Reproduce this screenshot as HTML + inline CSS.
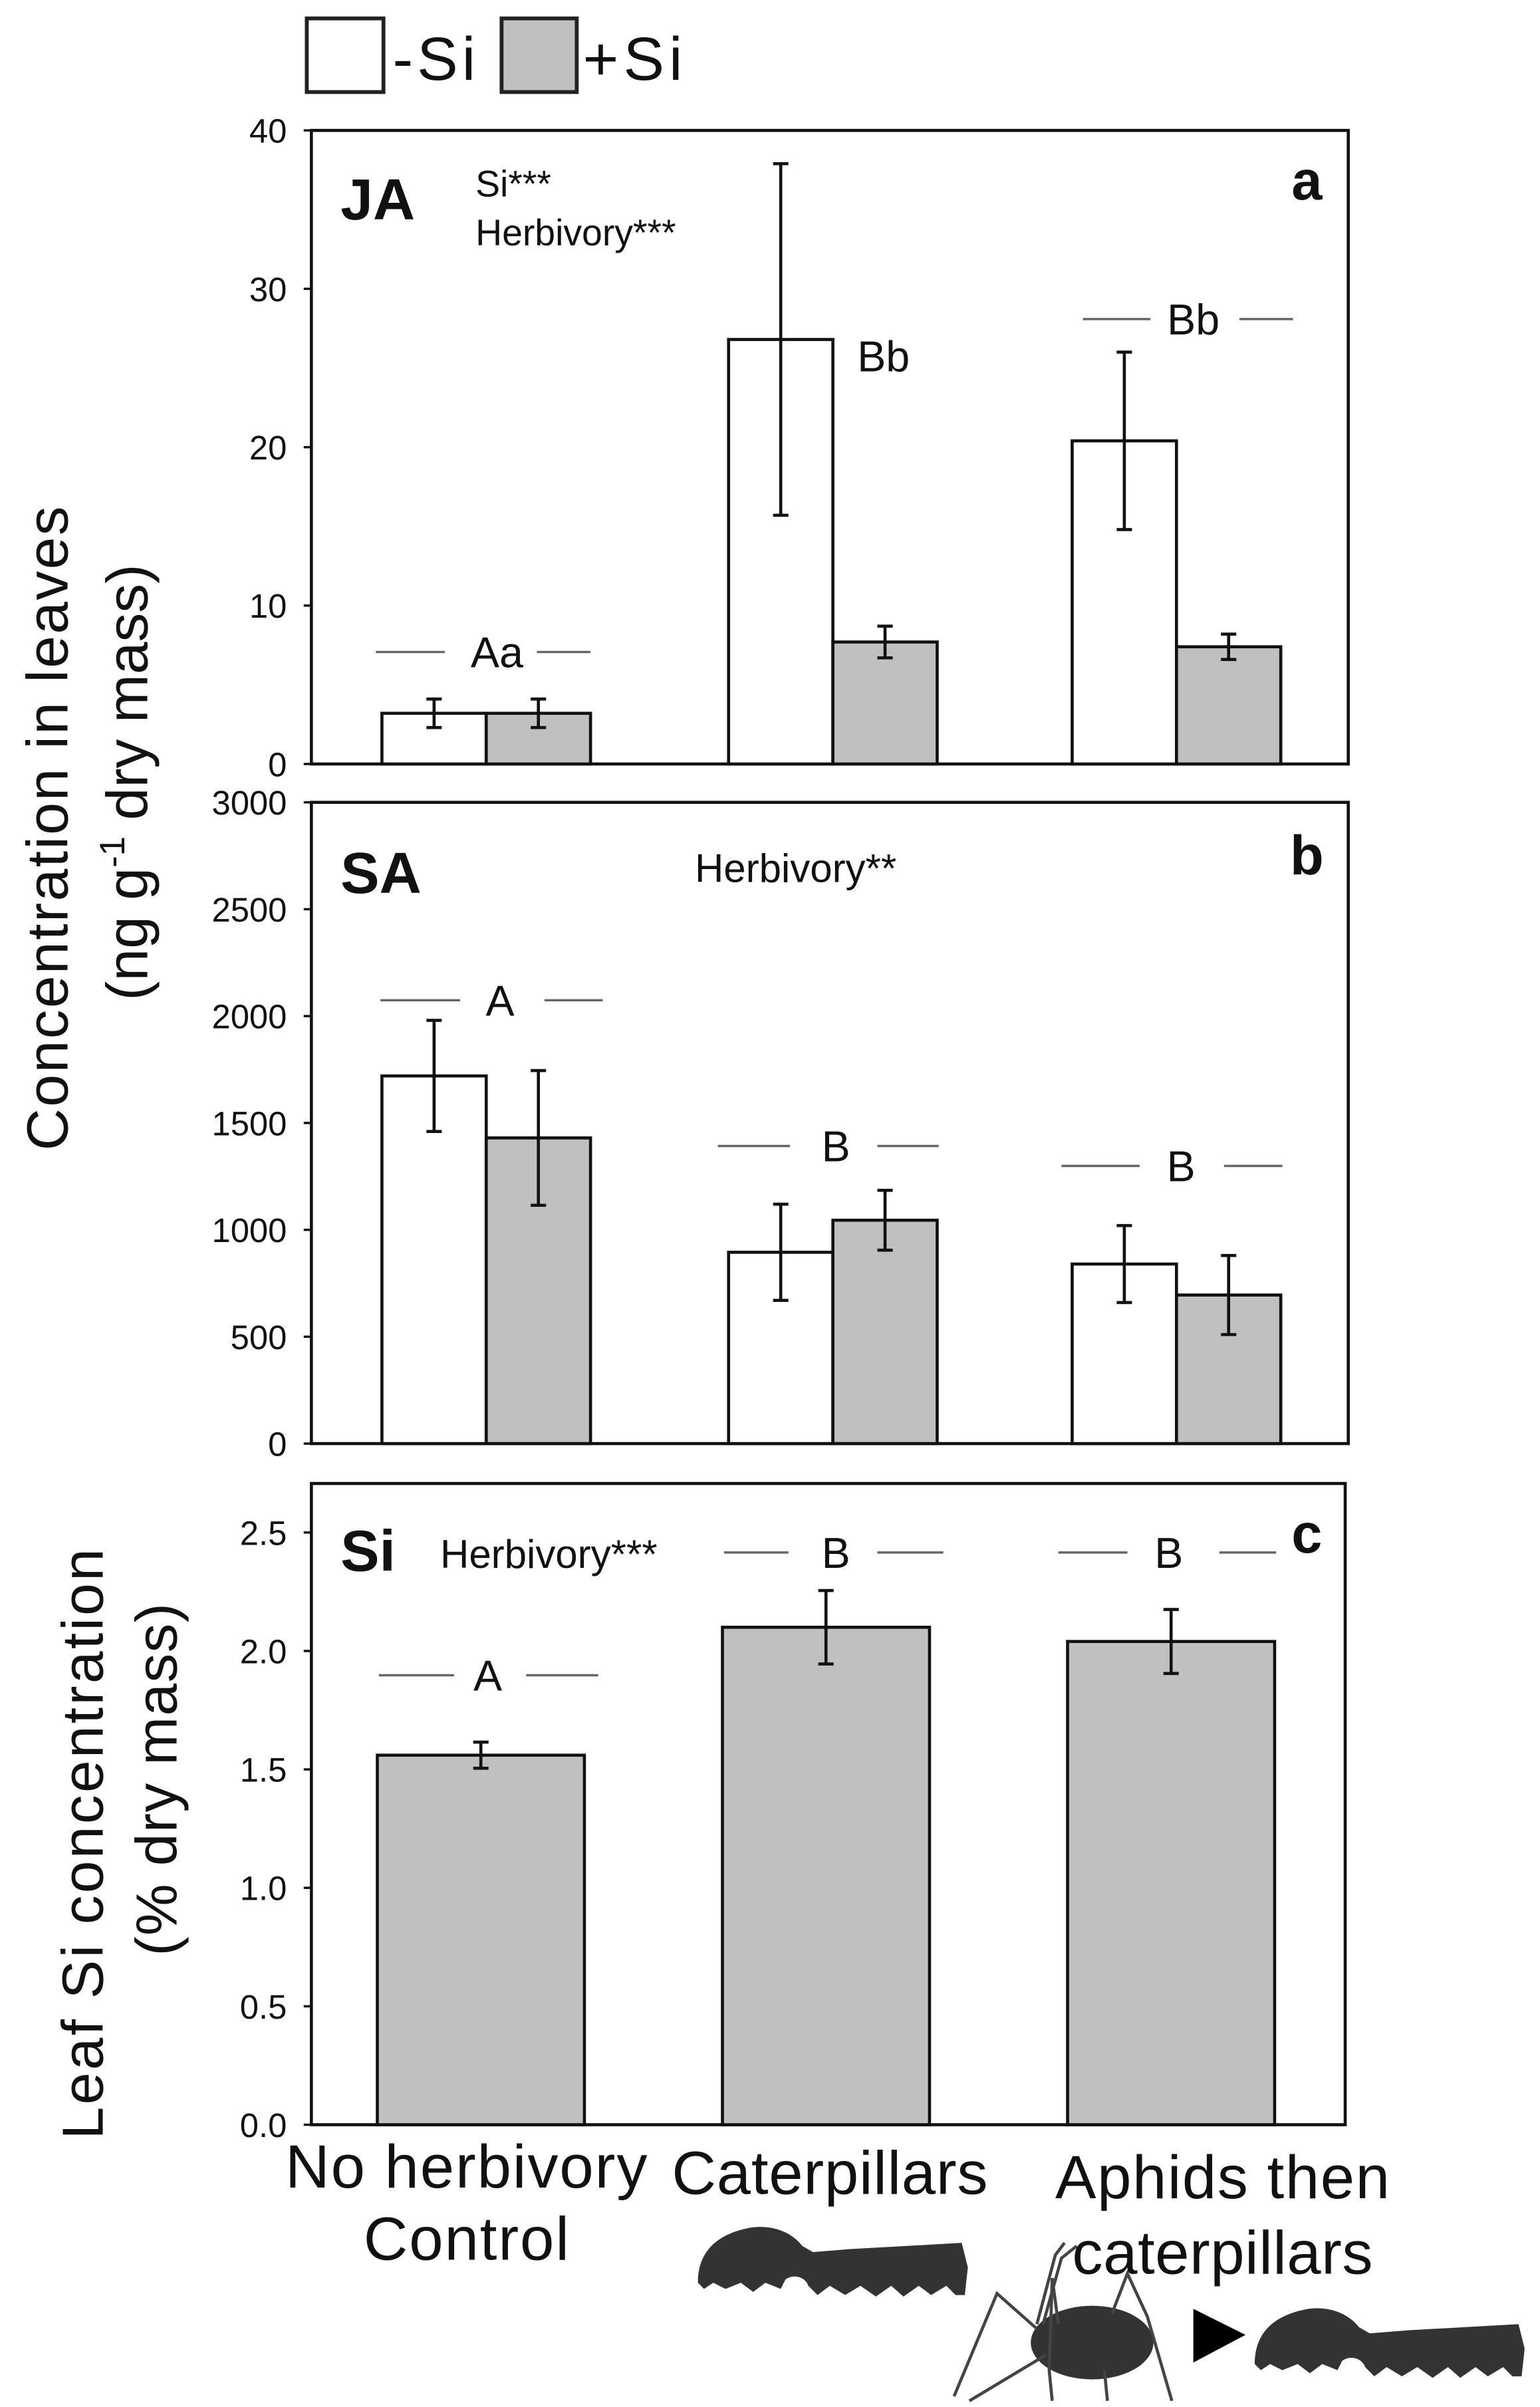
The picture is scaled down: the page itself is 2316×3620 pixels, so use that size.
<!DOCTYPE html>
<html><head><meta charset="utf-8"><style>
html,body{margin:0;padding:0;background:#fff;}
svg{display:block;}
text{font-family:"Liberation Sans Narrow","Liberation Sans",sans-serif;fill:#111;}
</style></head><body>
<svg id="fig" width="2316" height="3620" viewBox="0 0 1004 1569" preserveAspectRatio="none" xmlns="http://www.w3.org/2000/svg">
<g>
<rect x="200" y="12" width="50" height="48" fill="#fff" stroke="#222" stroke-width="2.5"/>
<text x="256" y="52" font-size="40" textLength="54">-Si</text>
<rect x="327" y="12" width="49" height="48" fill="#c0c0c0" stroke="#222" stroke-width="2.5"/>
<text x="380" y="52" font-size="40" textLength="65">+Si</text>
</g>
<g>
<text transform="translate(44,540) rotate(-90)" text-anchor="middle" font-size="38" textLength="420" style="font-family:'Liberation Sans',sans-serif">Concentration in leaves</text>
<text transform="translate(96,510) rotate(-90)" text-anchor="middle" font-size="38" style="font-family:'Liberation Sans',sans-serif">(ng g<tspan font-size="23" dy="-15">-1</tspan><tspan dy="15"> dry mass)</tspan></text>
</g>
<g>
<text transform="translate(67,1202) rotate(-90)" text-anchor="middle" font-size="38" textLength="385" style="font-family:'Liberation Sans',sans-serif">Leaf Si concentration</text>
<text transform="translate(115,1160) rotate(-90)" text-anchor="middle" font-size="38" textLength="230" style="font-family:'Liberation Sans',sans-serif">(% dry mass)</text>
</g>
<g id="panels"></g>
<g>
<text x="304" y="1426" text-anchor="middle" font-size="40" textLength="236">No herbivory</text>
<text x="304" y="1473" text-anchor="middle" font-size="40" textLength="134">Control</text>
<text x="541" y="1430" text-anchor="middle" font-size="40" textLength="206">Caterpillars</text>
<text x="797" y="1433" text-anchor="middle" font-size="40" textLength="218">Aphids then</text>
<text x="797" y="1482" text-anchor="middle" font-size="40" textLength="196">caterpillars</text>
</g>
<defs>
<path id="cat" d="M0,38 C0,18 12,6 35,2 C50,0 62,6 68,14 L75,18 L100,16 L172,12 L176,28 L174,46 L168,46 L162,40 L152,46 L144,40 L134,47 L126,40 L116,47 L106,40 L96,46 L86,40 L78,46 L72,40 C70,34 62,32 57,36 L54,42 L44,38 L36,44 L28,38 L18,42 L10,38 L4,42 Z"/>
</defs>
<g fill="#333"><use href="#cat" transform="translate(455,1450)"/></g>
<g stroke="#444" stroke-width="2" fill="none">
<ellipse cx="712" cy="1527" rx="40" ry="24" fill="#333" stroke="none"/>
<path d="M676,1518 L650,1495 L622,1562 M682,1535 L632,1565 M690,1515 L686,1485 L684,1545 L686,1565 M725,1508 L735,1482 L748,1510 L764,1565 M720,1545 L722,1565 M676,1515 L688,1470 L694,1462 M680,1515 L692,1472 L702,1464"/>
</g>
<polygon points="778,1505 812,1522 778,1540" fill="#000"/>
<g fill="#333"><use href="#cat" transform="translate(818,1503)"/></g>
</svg>
<script>
const jaCategories = ["No herbivory","Caterpillars","Aphids then caterpillars"];
const jaMinus = [3.2, 26.8, 20.4];
const jaMinusErr = [0.9, 11.1, 5.6];
const jaPlus = [3.2, 7.7, 7.4];
const jaPlusErr = [0.9, 1.0, 0.8];
const jaTicks = [0,10,20,30,40];
const saMinus = [1720, 895, 840];
const saMinusErr = [260, 225, 180];
const saPlus = [1430, 1045, 695];
const saPlusErr = [315, 140, 185];
const saTicks = [0,500,1000,1500,2000,2500,3000];
const siValues = [1.56, 2.10, 2.04];
const siErr = [0.055, 0.155, 0.135];
const siTicks = ["0.0","0.5","1.0","1.5","2.0","2.5"];

const NS="http://www.w3.org/2000/svg";
const root=document.getElementById('panels');
function mk(tag,attrs,parent){const e=document.createElementNS(NS,tag);for(const k in attrs)e.setAttribute(k,attrs[k]);(parent||root).appendChild(e);return e;}
function txt(s,attrs,parent){const e=mk('text',attrs,parent);e.textContent=s;return e;}

function panel(cfg){
  const g=mk('g',{});
  
  
  const y=v=>cfg.bottom-(v-0)/cfg.max*(cfg.bottom-cfg.top);
  const frame=mk('rect',{x:cfg.left,y:cfg.top,width:cfg.right-cfg.left,height:cfg.bottom-cfg.top,fill:'none',stroke:'#111','stroke-width':2},g);
  
  
  cfg.ticks.forEach(t=>{
    const v=parseFloat(t);
    const tk=mk('line',{x1:cfg.left-5,x2:cfg.left,y1:y(v),y2:y(v),stroke:'#111','stroke-width':1.5},g);
    
    
    const lb=txt(String(t),{x:cfg.left-16,y:y(v)+8,'text-anchor':'end','font-size':22,fill:'#222'},g);
    
    
  });
  cfg.series.forEach(s=>{
    s.vals.forEach((v,i)=>{
      const x0=cfg.groupX[i]+s.off;
      const b=mk('rect',{x:x0,y:y(v),width:cfg.bw,height:cfg.bottom-y(v),fill:s.fill,stroke:'#111','stroke-width':2},g);
      
      
      const cx=x0+cfg.bw/2, e=s.err[i];
      const eb=mk('path',{d:`M${cx},${y(v+e)}V${y(v-e)}M${cx-5},${y(v+e)}H${cx+5}M${cx-5},${y(v-e)}H${cx+5}`,stroke:'#111','stroke-width':2,fill:'none'},g);
      
      
    });
  });
  cfg.labels.forEach(l=>{
    const t=txt(l.t,{x:l.x,y:l.y,'font-size':l.fs||28,'text-anchor':l.a||'middle','font-weight':l.b?'bold':'normal'},g);
    
    
    if(l.d){l.d.forEach(d=>{const ln=mk('line',{x1:d[0],x2:d[1],y1:l.y-10,y2:l.y-10,stroke:'#666','stroke-width':1.5},g);
      
      });}
  });
}
panel({name:'panel-a-ja',left:203,right:879,top:85,bottom:498,max:40,ticks:jaTicks,bw:68,groupX:[249,475,699],
  series:[{name:'minus-si',vals:jaMinus,err:jaMinusErr,fill:'#fff',off:0},{name:'plus-si',vals:jaPlus,err:jaPlusErr,fill:'#c0c0c0',off:68}],
  labels:[{t:'JA',x:222,y:143,fs:38,a:'start',b:1,n:'panel-title-ja'},{t:'Si***',x:310,y:128,fs:24,a:'start',n:'stat-si'},
  {t:'Herbivory***',x:310,y:160,fs:24,a:'start',n:'stat-herbivory'},{t:'a',x:852,y:130,fs:36,b:1,n:'panel-letter-a'},
  {t:'Aa',x:324,y:435,n:'group-letter-aa',d:[[245,290],[350,385]]},{t:'Bb',x:576,y:242,n:'group-letter-bb-1'},
  {t:'Bb',x:778,y:218,n:'group-letter-bb-2',d:[[706,750],[808,843]]}]});
panel({name:'panel-b-sa',left:203,right:879,top:523,bottom:941,max:3000,ticks:saTicks,bw:68,groupX:[249,475,699],
  series:[{name:'minus-si',vals:saMinus,err:saMinusErr,fill:'#fff',off:0},{name:'plus-si',vals:saPlus,err:saPlusErr,fill:'#c0c0c0',off:68}],
  labels:[{t:'SA',x:222,y:582,fs:38,a:'start',b:1,n:'panel-title-sa'},{t:'Herbivory**',x:453,y:575,fs:26,a:'start',n:'stat-herbivory'},
  {t:'b',x:852,y:570,fs:36,b:1,n:'panel-letter-b'},
  {t:'A',x:326,y:662,n:'group-letter-a',d:[[248,300],[355,393]]},{t:'B',x:545,y:757,n:'group-letter-b-1',d:[[468,515],[572,612]]},
  {t:'B',x:770,y:770,n:'group-letter-b-2',d:[[692,743],[798,836]]}]});
panel({name:'panel-c-si',left:203,right:877,top:967,bottom:1385,max:2.707,ticks:siTicks,bw:135,groupX:[246,471,696],
  series:[{name:'si',vals:siValues,err:siErr,fill:'#c0c0c0',off:0}],
  labels:[{t:'Si',x:222,y:1024,fs:38,a:'start',b:1,n:'panel-title-si'},{t:'Herbivory***',x:287,y:1022,fs:26,a:'start',n:'stat-herbivory'},
  {t:'c',x:852,y:1012,fs:36,b:1,n:'panel-letter-c'},
  {t:'A',x:318,y:1102,n:'group-letter-a',d:[[247,296],[343,390]]},{t:'B',x:545,y:1022,n:'group-letter-b-1',d:[[472,514],[572,615]]},
  {t:'B',x:762,y:1022,n:'group-letter-b-2',d:[[690,735],[795,832]]}]});
</script>
</body></html>
